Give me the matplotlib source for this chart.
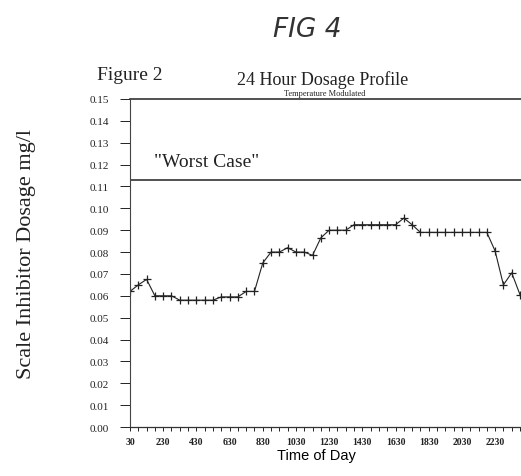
import matplotlib
matplotlib.use("Agg")
import matplotlib.pyplot as plt

# half-hourly readings, 0:30 .. 24:00
dosage = [0.062, 0.065, 0.0675, 0.060, 0.060, 0.060, 0.058, 0.058, 0.058, 0.058,
          0.058, 0.0595, 0.0595, 0.0595, 0.062, 0.062, 0.075, 0.080, 0.080, 0.082,
          0.080, 0.080, 0.0785, 0.0865, 0.090, 0.090, 0.090, 0.0925, 0.0925, 0.0925,
          0.0925, 0.0925, 0.0925, 0.0955, 0.0925, 0.089, 0.089, 0.089, 0.089, 0.089,
          0.089, 0.089, 0.089, 0.089, 0.0805, 0.065, 0.0705, 0.0605]
tick_labels = ['30', '230', '430', '630', '830', '1030', '1230', '1430',
               '1630', '1830', '2030', '2230']
yticks = [0.00, 0.01, 0.02, 0.03, 0.04, 0.05, 0.06, 0.07, 0.08, 0.09,
          0.10, 0.11, 0.12, 0.13, 0.14, 0.15]
worst_case = 0.113

serif = 'Liberation Serif'
sans = 'Liberation Sans'

fig = plt.figure(figsize=(5.21, 4.77), dpi=100)
ax = fig.add_axes([0.2495, 0.1027, 0.7505, 0.6877])

x = list(range(len(dosage)))
ax.plot(x, dosage, color='#222222', linewidth=0.8, marker='+',
        markersize=5.5, markeredgewidth=0.9)

# "Worst Case" limit line
ax.axhline(worst_case, color='#333333', linewidth=1.2)
ax.axhline(0.15, color='#333333', linewidth=1.2, clip_on=False)
ax.text(2.9, 0.1212, '"Worst Case"', family=serif, fontsize=14,
        va='center', ha='left', color='#222222')

ax.set_xlim(0, 47.12)
ax.set_ylim(0, 0.15)
ax.set_xticks(x, minor=True)
ax.set_xticks(range(0, 48, 4))
ax.set_xticklabels(tick_labels, family=serif, fontsize=7, fontweight='bold')
ax.set_yticks(yticks)
ax.set_yticklabels(['%.2f' % v for v in yticks], family=serif, fontsize=8)
ax.tick_params(axis='x', which='both', direction='out', length=3, width=0.7,
               pad=4, colors='#222222')
ax.tick_params(axis='y', direction='out', length=7, width=0.7, pad=8,
               colors='#222222')

for s in ['top', 'right']:
    ax.spines[s].set_visible(False)
ax.spines['left'].set_linewidth(0.8)
ax.spines['left'].set_color('#444444')
ax.spines['bottom'].set_linewidth(0.9)
ax.spines['bottom'].set_color('#333333')

ax.set_xlabel('Time of Day', family=sans, fontsize=10.5, labelpad=3)
ax.xaxis.set_label_coords(0.478, -0.065)
fig.text(0.05, 0.467, 'Scale Inhibitor Dosage mg/l', rotation=90,
         family=serif, fontsize=16, ha='center', va='center', color='#222222')

fig.text(0.62, 0.832, '24 Hour Dosage Profile', family=serif, fontsize=13,
         ha='center', va='center', color='#222222')
fig.text(0.186, 0.842, 'Figure 2', family=serif, fontsize=14,
         ha='left', va='center', color='#222222')
fig.text(0.624, 0.803, 'Temperature Modulated', family=serif, fontsize=6,
         ha='center', va='center', color='#222222')
fig.text(0.59, 0.937, 'FIG 4', family='DejaVu Sans', fontstyle='italic',
         fontweight='light', fontsize=19, ha='center', va='center',
         color='#333333')

fig.savefig('out.png', dpi=100)
